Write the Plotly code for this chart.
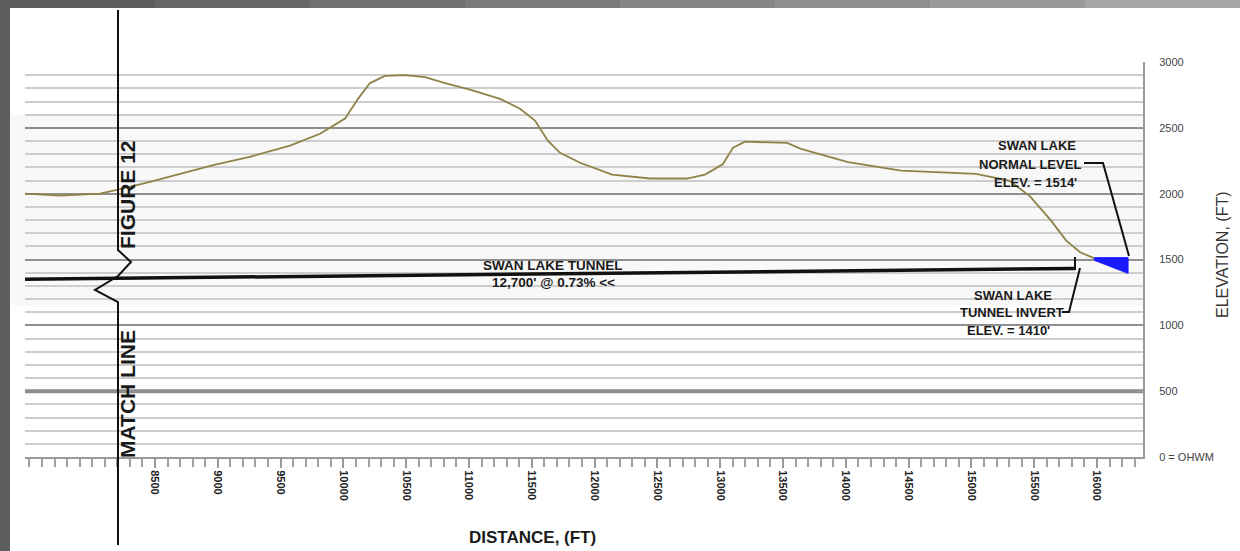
import plotly.graph_objects as go

# ---------------- data ----------------
profile_distance = [7465, 7744, 8062, 8205, 8460, 8700, 8978, 9256, 9575, 9814, 10013, 10116,
                    10212, 10331, 10490, 10650, 10809, 11008, 11247, 11406, 11525, 11629, 11725,
                    11884, 12139, 12441, 12736, 12879, 13022, 13102, 13198, 13532, 13643, 14018,
                    14440, 15037, 15300, 15467, 15634, 15753, 15865, 15976]
profile_elev = [2000, 1985, 2000, 2030, 2090, 2150, 2220, 2280, 2365, 2455, 2570, 2720,
                2840, 2895, 2900, 2885, 2840, 2790, 2720, 2645, 2555, 2400, 2310,
                2235, 2145, 2115, 2115, 2145, 2225, 2350, 2395, 2385, 2340, 2240,
                2175, 2150, 2100, 1980, 1795, 1645, 1555, 1510]

tunnel_distance = [7465, 15825]
tunnel_elev = [1350, 1432]

lake_distance = [15976, 16247, 16247, 15976]
lake_elev = [1514, 1514, 1395, 1495]

x_tickvals = [8500, 9000, 9500, 10000, 10500, 11000, 11500, 12000, 12500, 13000,
              13500, 14000, 14500, 15000, 15500, 16000]
x_ticktext = [str(v) for v in x_tickvals]
y_tickvals = [0, 500, 1000, 1500, 2000, 2500, 3000]
y_ticktext = ["0 = OHWM", "500", "1000", "1500", "2000", "2500", "3000"]

# ---------------- layout helpers (pixel -> paper) ----------------
W, H = 1240, 551
L, R, T, B = 25, 1143, 62, 457


def xp(px):
    return (px - L) / (R - L)


def yp(py):
    return (B - py) / (B - T)


fig = go.Figure()

fig.add_trace(go.Scatter(x=lake_distance, y=lake_elev, mode="lines", fill="toself",
                         fillcolor="#1a1aff", line=dict(color="#1a1aff", width=1),
                         hoverinfo="skip", showlegend=False))
fig.add_trace(go.Scatter(x=profile_distance, y=profile_elev, mode="lines",
                         line=dict(color="#8f8248", width=1.8), showlegend=False))
fig.add_trace(go.Scatter(x=tunnel_distance, y=tunnel_elev, mode="lines",
                         line=dict(color="#111111", width=3.5), showlegend=False))

shapes = []
# page background and scan border
shapes.append(dict(type="rect", xref="paper", yref="paper", x0=xp(0), x1=xp(W), y0=yp(H), y1=yp(0),
                   fillcolor="#5e5e5e", line_width=0, layer="below"))
grad = ["#5e5e5e", "#666666", "#707070", "#7a7a7a", "#858585", "#8f8f8f", "#9a9a9a", "#a5a5a5"]
seg = W / len(grad)
for i, c in enumerate(grad):
    shapes.append(dict(type="rect", xref="paper", yref="paper", x0=xp(i * seg), x1=xp((i + 1) * seg + 1),
                       y0=yp(8), y1=yp(0), fillcolor=c, line_width=0, layer="below"))
shapes.append(dict(type="rect", xref="paper", yref="paper", x0=xp(10), x1=xp(W), y0=yp(H), y1=yp(8),
                   fillcolor="white", line_width=0, layer="below"))
shapes.append(dict(type="rect", xref="paper", yref="paper", x0=xp(10), x1=xp(R), y0=yp(305), y1=yp(115),
                   fillcolor="#f8f8f8", line_width=0, layer="below"))
# thick 500 ft line
shapes.append(dict(type="line", xref="paper", yref="y", x0=0, x1=1, y0=500, y1=500,
                   line=dict(color="#8a8a8a", width=4), layer="below"))
# match line with break symbol
mx = xp(118)
path = (f"M {mx},{yp(10)} L {mx},{yp(250)} L {xp(131)},{yp(262)} L {mx},{yp(276)} "
        f"L {xp(95)},{yp(290)} L {mx},{yp(302)} L {mx},{yp(545)}")
shapes.append(dict(type="path", xref="paper", yref="paper", path=path,
                   line=dict(color="#111111", width=2)))
# tunnel end riser
shapes.append(dict(type="line", xref="paper", yref="paper", x0=xp(1075), x1=xp(1075), y0=yp(270), y1=yp(257),
                   line=dict(color="#111111", width=2)))
# leader lines
shapes.append(dict(type="path", xref="paper", yref="paper",
                   path=f"M {xp(1084)},{yp(163)} L {xp(1103)},{yp(163)} L {xp(1129)},{yp(256)}",
                   line=dict(color="#111111", width=2)))
shapes.append(dict(type="path", xref="paper", yref="paper",
                   path=f"M {xp(1062)},{yp(312)} L {xp(1069)},{yp(312)} L {xp(1080)},{yp(268)}",
                   line=dict(color="#111111", width=2)))

annotations = []
FONT = "Liberation Sans"


def txt(px, py, s, size=10, angle=0, color="#1a1a1a"):
    annotations.append(dict(xref="paper", yref="paper", x=xp(px), y=yp(py), text=s, showarrow=False,
                            textangle=angle, font=dict(family=FONT, size=size, color=color),
                            xanchor="center", yanchor="middle"))


txt(127, 195, "<b>FIGURE 12</b>", size=21, angle=-90)
txt(127, 394, "<b>MATCH LINE</b>", size=21, angle=-90)
txt(553, 265, "<b>SWAN LAKE TUNNEL</b>", size=13.5)
txt(553, 282, "<b>12,700' @ 0.73% &lt;&lt;</b>", size=13.5)
txt(1037, 145, "<b>SWAN LAKE</b>", size=13)
txt(1030, 164, "<b>NORMAL LEVEL</b>", size=13)
txt(1035, 182, "<b>ELEV. = 1514'</b>", size=13)
txt(1013, 295, "<b>SWAN LAKE</b>", size=13)
txt(1012, 312, "<b>TUNNEL INVERT</b>", size=13)
txt(1008, 330, "<b>ELEV. = 1410'</b>", size=13)
txt(532, 537, "<b>DISTANCE, (FT)</b>", size=17)
txt(1222, 255, "ELEVATION, (FT)", size=16, angle=-90, color="#333333")

fig.update_layout(
    width=W, height=H,
    margin=dict(l=L, r=W - R, t=T, b=H - B, pad=0),
    paper_bgcolor="white",
    plot_bgcolor="rgba(0,0,0,0)",
    showlegend=False,
    shapes=shapes,
    annotations=annotations,
    font=dict(family=FONT, color="#222222"),
    xaxis=dict(range=[7465, 16366], tickmode="array", tickvals=x_tickvals,
               ticktext=["<b>%s</b>" % t for t in x_ticktext],
               tickangle=90, tickfont=dict(size=11, color="#222222"),
               showgrid=False, zeroline=False, showline=True, linecolor="#9a9a9a", linewidth=2,
               ticks="outside", ticklen=9, tickwidth=2, tickcolor="#9a9a9a",
               minor=dict(tickmode="linear", tick0=7500, dtick=100, ticks="outside", ticklen=8,
                          tickwidth=2, tickcolor="#a0a0a0", showgrid=False)),
    yaxis=dict(range=[0, 3000], side="right", tickmode="array", tickvals=y_tickvals, ticktext=y_ticktext,
               tickfont=dict(size=11, color="#444444"),
               showgrid=True, gridcolor="#8f8f8f", gridwidth=2, zeroline=False,
               showline=True, linecolor="#9a9a9a", linewidth=2, ticks="inside", ticklen=6,
               tickcolor="#9a9a9a", ticklabelstandoff=12,
               minor=dict(tickmode="linear", tick0=0, dtick=100, showgrid=True, gridcolor="#cdcdcd",
                          gridwidth=2, ticks="")),
)

fig.write_html("out.html", config={"displayModeBar": False},
               post_script="document.body.style.margin='0px';document.body.style.overflow='hidden';")
